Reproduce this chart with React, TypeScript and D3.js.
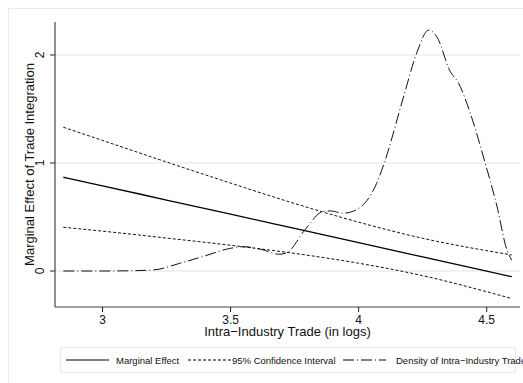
import React from "react";
import * as d3 from "d3";

// values
const xGrid = [2.847, 3.0, 3.25, 3.5, 3.75, 4.0, 4.25, 4.5, 4.598];
const marginal = [0.868, 0.789, 0.657, 0.526, 0.394, 0.262, 0.13, -0.002, -0.053];
const upperCI = [1.331, 1.209, 1.009, 0.814, 0.625, 0.452, 0.303, 0.188, 0.149];
const lowerCI = [0.405, 0.369, 0.305, 0.238, 0.163, 0.072, -0.043, -0.192, -0.255];

const densX = [2.847, 3.0, 3.1, 3.2, 3.3, 3.4, 3.5, 3.55, 3.62, 3.69, 3.72, 3.79, 3.86, 3.89, 3.94, 4.0, 4.07, 4.1, 4.175, 4.227, 4.273, 4.305, 4.357, 4.39, 4.436, 4.494, 4.54, 4.579, 4.598];
const densY = [0.0, 0.0, 0.002, 0.01, 0.07, 0.14, 0.21, 0.225, 0.2, 0.155, 0.17, 0.38, 0.55, 0.556, 0.535, 0.58, 0.81, 1.0, 1.61, 2.02, 2.23, 2.17, 1.85, 1.74, 1.46, 1.0, 0.6, 0.194, 0.1];

const xTicks = [3, 3.5, 4, 4.5];
const yTicks = [0, 1, 2];

const legendItems = [
  { label: "Marginal Effect", dash: "none" },
  { label: "95% Confidence Interval", dash: "3,2" },
  { label: "Density of Intra\u2212Industry Trade", dash: "11,3,1,3" },
];

const W = 523;
const H = 383;
const left = 55;
const right = 520;
const top = 22;
const bottom = 307;
const font = "'Liberation Sans', Arial, Helvetica, sans-serif";

export default function App() {
  const x = d3.scaleLinear().domain([2.8145, 4.63]).range([left, right]);
  const y = d3.scaleLinear().domain([-0.3333, 2.3055]).range([bottom, top]);

  const line = d3
    .line<[number, number]>()
    .x((d) => x(d[0]))
    .y((d) => y(d[1]))
    .curve(d3.curveMonotoneX);

  const series = (vals: number[], xs: number[]) =>
    line(xs.map((v, i) => [v, vals[i]] as [number, number])) || "";

  const legendPos = [
    { lx: 66, tx: 116 },
    { lx: 188, tx: 232 },
    { lx: 343, tx: 396 },
  ];

  return (
    <svg
      width={W}
      height={H}
      style={{ position: "absolute", left: 0, top: 0, background: "#fff" }}
      fontFamily={font}
    >
      <rect x={8.5} y={8.5} width={W} height={H} fill="#fff" stroke="#ebebeb" />

      {/* gridlines */}
      {yTicks.map((t) => (
        <line key={"g" + t} x1={left} x2={right} y1={y(t)} y2={y(t)} stroke="#e4e4e4" strokeWidth={1} />
      ))}

      {/* series */}
      <path d={series(upperCI, xGrid)} fill="none" stroke="#111" strokeWidth={1} strokeDasharray="3,2" />
      <path d={series(lowerCI, xGrid)} fill="none" stroke="#111" strokeWidth={1} strokeDasharray="3,2" />
      <path d={series(marginal, xGrid)} fill="none" stroke="#000" strokeWidth={1.3} />
      <path d={series(densY, densX)} fill="none" stroke="#111" strokeWidth={1} strokeDasharray="11,3,1,3" />

      {/* y axis */}
      <line x1={left} x2={left} y1={top} y2={bottom} stroke="#222" />
      {yTicks.map((t) => (
        <g key={"y" + t} transform={`translate(${left},${y(t)})`}>
          <line x1={-5} x2={0} stroke="#222" />
          <text transform="translate(-11,0) rotate(-90)" textAnchor="middle" fontSize={12} fill="#111">
            {t}
          </text>
        </g>
      ))}
      <text
        transform={`translate(34,${(top + bottom) / 2}) rotate(-90)`}
        textAnchor="middle"
        fontSize={13}
        fill="#111"
      >
        Marginal Effect of Trade Integration
      </text>

      {/* x axis */}
      <line x1={left} x2={right} y1={bottom} y2={bottom} stroke="#444" />
      {xTicks.map((t) => (
        <g key={"x" + t} transform={`translate(${x(t)},${bottom})`}>
          <line y1={0} y2={5} stroke="#222" />
          <text y={17} textAnchor="middle" fontSize={12} fill="#111">
            {t}
          </text>
        </g>
      ))}
      <text x={(left + right) / 2} y={336} textAnchor="middle" fontSize={13} fill="#111">
        Intra{"\u2212"}Industry Trade (in logs)
      </text>

      {/* legend */}
      <rect x={60.5} y={347.5} width={455} height={25} fill="#fff" stroke="#ebebeb" />
      {legendItems.map((it, i) => (
        <g key={it.label}>
          <line
            x1={legendPos[i].lx}
            x2={legendPos[i].lx + 43}
            y1={360}
            y2={360}
            stroke="#000"
            strokeWidth={1}
            strokeDasharray={it.dash}
          />
          <text x={legendPos[i].tx} y={363.5} fontSize={9.5} fill="#111">
            {it.label}
          </text>
        </g>
      ))}
    </svg>
  );
}
